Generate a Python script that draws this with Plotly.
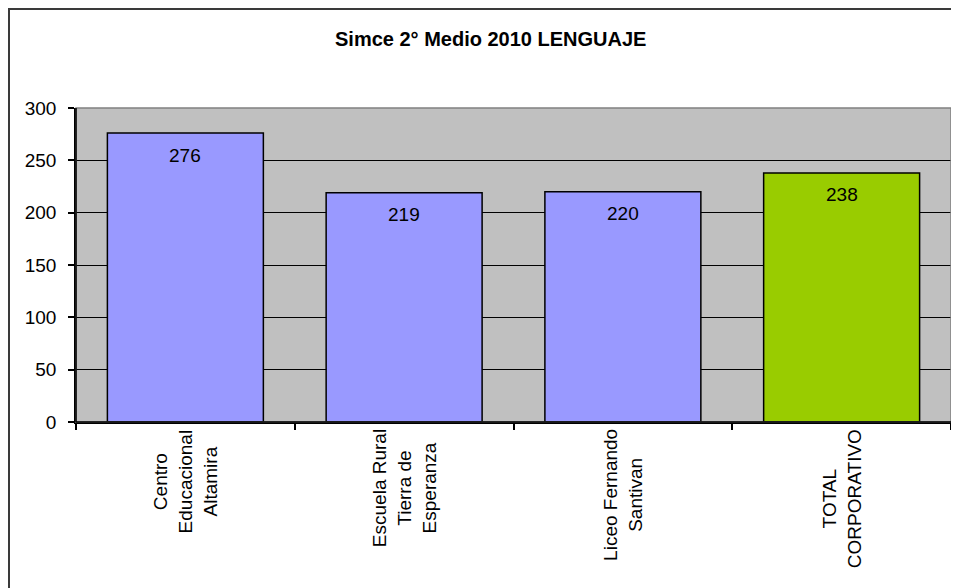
import plotly.graph_objects as go

# ---- data ----
categories = ["Centro Educacional Altamira", "Escuela Rural Tierra de Esperanza",
              "Liceo Fernando Santivan", "TOTAL CORPORATIVO"]
tick_labels = ["Centro<br>Educacional<br>Altamira", "Escuela Rural<br>Tierra de<br>Esperanza",
               "Liceo Fernando<br>Santivan", "TOTAL<br>CORPORATIVO"]
values = [276, 219, 220, 238]
bar_colors = ["#9999FF", "#9999FF", "#9999FF", "#99CC00"]
y_ticks = [0, 50, 100, 150, 200, 250, 300]
title_text = "Simce 2° Medio 2010 LENGUAJE"

FONT = "Liberation Sans, Arial, sans-serif"

# page body has an 8px margin; figure sized to fit the window
W, H = 951, 580
L, R, T, B = 68, 8, 100, 166
pw = W - L - R
ph = H - T - B

fig = go.Figure()
fig.add_trace(go.Bar(
    x=categories, y=values,
    marker=dict(color=bar_colors, line=dict(color="#000000", width=1.5)),
    hoverinfo="skip",
))

# value labels inside bars near top
for c, v in zip(categories, values):
    fig.add_annotation(x=c, y=v, xref="x", yref="y", text=str(v), showarrow=False,
                       yanchor="middle", yshift=-22,
                       font=dict(family=FONT, size=19, color="#000000"))

# rotated multi-line category labels
for c, t in zip(categories, tick_labels):
    fig.add_annotation(x=c, y=0, xref="x", yref="y", text=t, showarrow=False,
                       textangle=-90, align="center", yanchor="top", xanchor="center",
                       yshift=-5,
                       font=dict(family=FONT, size=19, color="#000000"))

# title
fig.add_annotation(x=(482 - L) / pw, y=(T + ph - 31) / ph, xref="paper", yref="paper",
                   text="<b>" + title_text + "</b>", showarrow=False,
                   xanchor="center", yanchor="middle",
                   font=dict(family=FONT, size=20, color="#000000"))

# plot-area top/right gray border
fig.add_shape(type="rect", xref="paper", yref="paper", x0=0, x1=1, y0=0, y1=1,
              line=dict(color="#808080", width=1.5), layer="above")
# outer chart border (extends beyond right/bottom of the view)
fig.add_shape(type="rect", xref="paper", yref="paper",
              x0=(1 - L) / pw, x1=(W + 20 - L) / pw,
              y0=(T + ph - (H + 20)) / ph, y1=(T + ph - 1) / ph,
              line=dict(color="#3a3a3a", width=2), layer="above")
# left & bottom axis lines in black above the gray border
fig.add_shape(type="line", xref="paper", yref="paper", x0=0, x1=0, y0=0, y1=1,
              line=dict(color="#000000", width=1.5), layer="above")
fig.add_shape(type="line", xref="paper", yref="paper", x0=0, x1=1, y0=0, y1=0,
              line=dict(color="#000000", width=1.5), layer="above")

fig.update_layout(
    width=W, height=H,
    margin=dict(l=L, r=R, t=T, b=B, pad=0),
    paper_bgcolor="#FFFFFF", plot_bgcolor="#C0C0C0",
    showlegend=False, bargap=0.287,
    font=dict(family=FONT, size=19, color="#000000"),
)
fig.update_xaxes(
    type="category", showticklabels=False, showgrid=False,
    ticks="outside", tickson="boundaries", ticklen=6, tickcolor="#000000", tickwidth=1.5,
    showline=True, linecolor="#000000", linewidth=1.5, zeroline=False,
)
fig.update_yaxes(
    range=[0, 300], tickvals=y_ticks, ticktext=[str(v) for v in y_ticks],
    ticks="outside", ticklen=6, tickcolor="#000000", tickwidth=1.5,
    showgrid=True, gridcolor="#000000", gridwidth=1,
    showline=True, linecolor="#000000", linewidth=1.5, zeroline=False,
    ticklabelstandoff=8,
    tickfont=dict(family=FONT, size=19, color="#000000"),
)

fig.write_html("out.html")
